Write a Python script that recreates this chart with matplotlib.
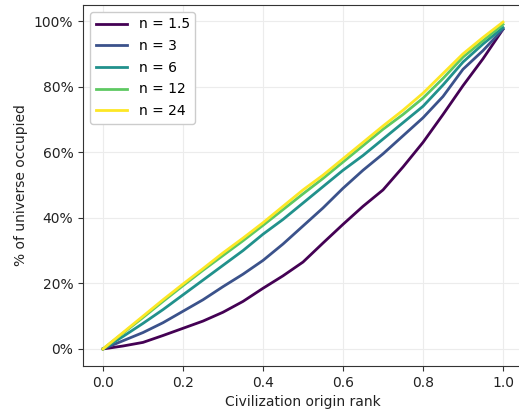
import numpy as np
import matplotlib
matplotlib.use("Agg")
import matplotlib.pyplot as plt
from matplotlib.ticker import PercentFormatter

# origin rank (x) and fraction of universe occupied for each n
rank = [0.0, 0.05, 0.10, 0.15, 0.20, 0.25, 0.30, 0.35, 0.40, 0.45, 0.50,
        0.55, 0.60, 0.65, 0.70, 0.75, 0.80, 0.85, 0.90, 0.95, 1.0]

occ_1_5 = [0.0, 0.9, 2.0, 4.1, 6.3, 8.5, 11.2, 14.5, 18.5, 22.3, 26.5,
           32.3, 38.0, 43.5, 48.5, 55.5, 63.0, 71.5, 80.3, 88.5, 97.5]
occ_3 = [0.0, 2.5, 5.0, 8.0, 11.5, 15.0, 19.0, 22.8, 27.0, 32.0, 37.5,
         43.0, 49.0, 54.5, 59.5, 65.0, 70.5, 77.0, 85.3, 91.0, 97.5]
occ_6 = [0.0, 3.8, 7.8, 12.0, 16.5, 21.0, 25.5, 30.0, 35.0, 39.5, 44.5,
         49.5, 54.5, 59.0, 64.0, 69.0, 74.0, 80.5, 87.5, 93.0, 98.0]
occ_12 = [0.0, 4.8, 9.6, 14.5, 19.3, 24.0, 28.5, 33.0, 37.7, 42.5, 47.3,
          52.0, 57.0, 62.0, 67.0, 71.5, 76.5, 82.5, 89.0, 94.0, 99.0]
occ_24 = [0.0, 5.0, 10.0, 15.0, 19.8, 24.5, 29.3, 33.8, 38.5, 43.5, 48.5,
          53.0, 58.0, 63.0, 68.0, 72.8, 78.0, 84.0, 90.0, 95.0, 99.7]

labels = ["n = 1.5", "n = 3", "n = 6", "n = 12", "n = 24"]
series = [occ_1_5, occ_3, occ_6, occ_12, occ_24]
colors = plt.cm.viridis(np.linspace(0, 1, len(series)))

fig = plt.figure(figsize=(5.19, 4.16), dpi=100)
ax = fig.add_axes([83 / 519, 50 / 416, 440 / 519, 361 / 416])

for lab, vals, c in zip(labels, series, colors):
    ax.plot(rank, np.array(vals) / 100, color=c, lw=2, label=lab)

ax.set_xlim(-0.05, 1.05)
ax.set_ylim(-0.052, 1.049)
ax.set_xticks([0, 0.2, 0.4, 0.6, 0.8, 1.0])
ax.set_yticks([0, 0.2, 0.4, 0.6, 0.8, 1.0])
ax.yaxis.set_major_formatter(PercentFormatter(1.0, decimals=0))
ax.grid(True, color="#ececec", lw=0.8)
ax.set_axisbelow(True)

for s in ax.spines.values():
    s.set_color("#333333")
ax.tick_params(colors="#333333", labelcolor="#222222", labelsize=10)

ax.set_xlabel("Civilization origin rank", fontsize=10, color="#222222")
ax.set_ylabel("% of universe occupied", fontsize=10, color="#222222")

ax.legend(loc="upper left", fontsize=10, framealpha=1, edgecolor="#cccccc",
          handlelength=2.3, labelspacing=0.55)

fig.savefig("out.png", dpi=100)
